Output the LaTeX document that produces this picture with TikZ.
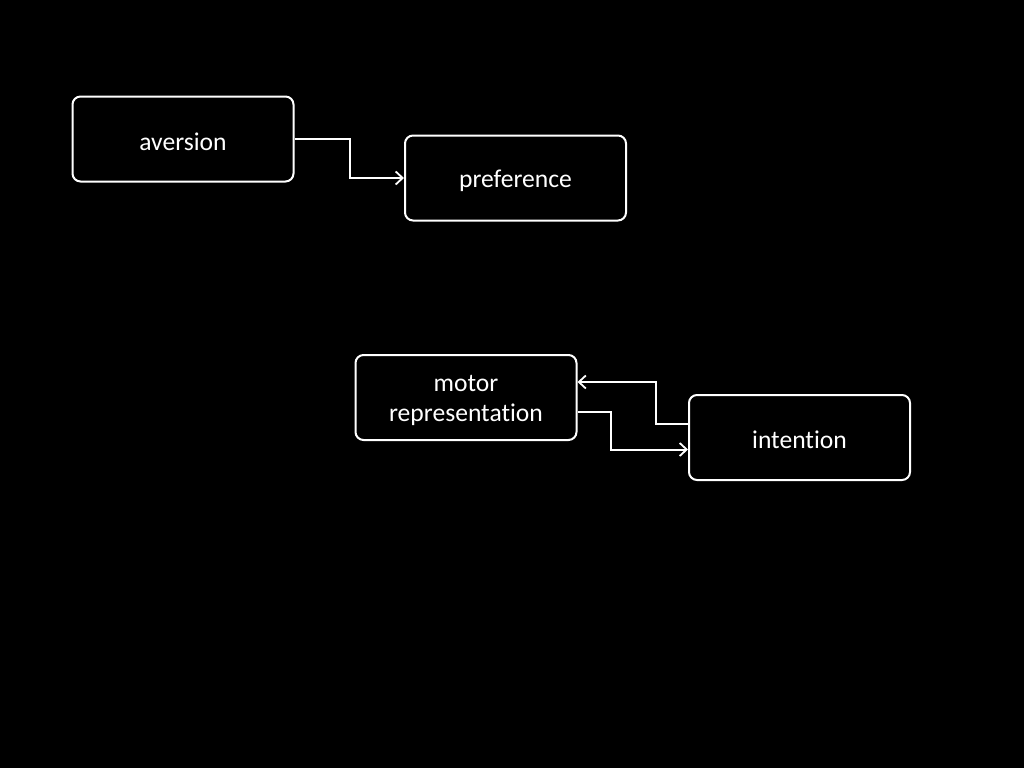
\documentclass[tikz,border=0pt]{standalone}
\usepackage{fontspec}
\setmainfont{Carlito}[Ligatures=NoCommon]
\usetikzlibrary{arrows.meta,calc}
\begin{document}
\begin{tikzpicture}[x=1pt,y=-1pt,
  box/.style={draw=white,line width=2pt,rounded corners=8pt,fill=black,
    minimum width=221pt,minimum height=85pt,inner sep=0pt,
    text=white,font=\fontsize{25.6}{30}\selectfont,align=center},
  txt/.style={text=white,font=\fontsize{25.6}{30}\selectfont,align=center,inner sep=0pt},
  conn/.style={draw=white,line width=2pt,
    -{Straight Barb[length=7pt,width=13pt,line width=1.8pt]}}]
\fill[black] (0,0) rectangle (1024,768);
\useasboundingbox (0,0) rectangle (1024,768);
\node[box,label={[txt,yshift=-2.5pt]center:aversion}] (aversion) at (183,139) {};
\node[box,label={[txt,yshift=-2.5pt]center:preference}] (preference) at (515.5,178) {};
\node[box,label={[txt,yshift=-3pt]center:{motor\\representation}}] (motor) at (466,397.5) {};
\node[box,label={[txt,yshift=-2.5pt]center:intention}] (intention) at (799.5,437.5) {};
\coordinate (b1) at (349.5,158);
\coordinate (b2) at (655.5,400);
\coordinate (b3) at (611,430);
\draw[conn] (aversion.east) -| (b1) |- (preference.west);
\draw[conn] ([yshift=13.5pt]intention.west) -| (b2) |- ([yshift=15.5pt]motor.east);
\draw[conn] ([yshift=-14pt]motor.east) -| (b3) |- ([yshift=-12pt]intention.west);
\end{tikzpicture}
\end{document}
